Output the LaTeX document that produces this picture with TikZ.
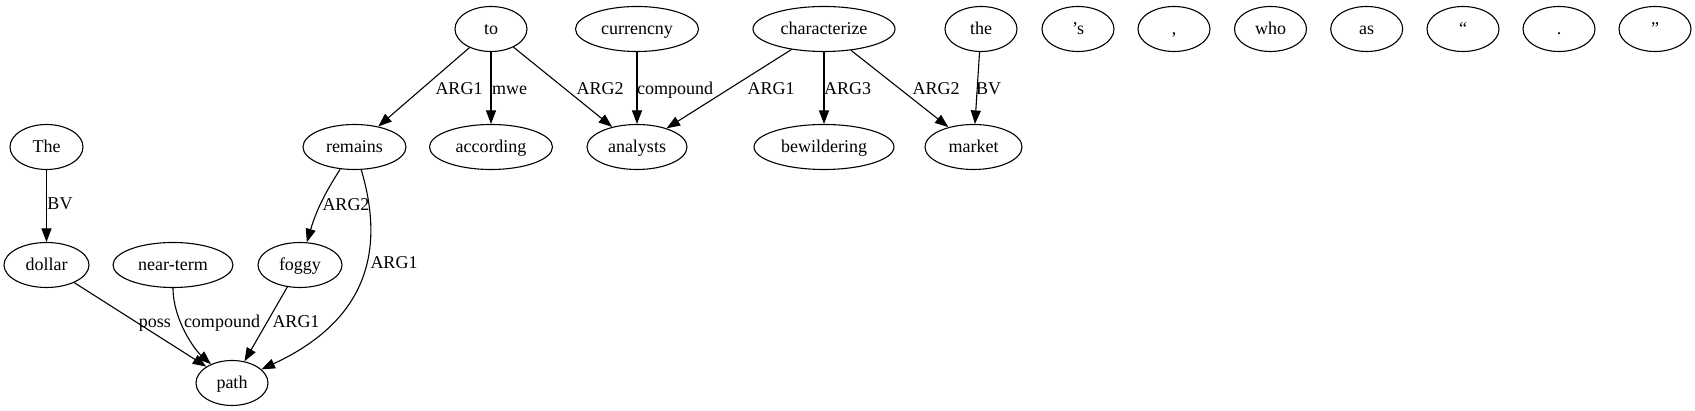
\documentclass[tikz,border=0pt]{standalone}
\usepackage{fontspec}
\setmainfont{Liberation Serif}
\usetikzlibrary{shapes.geometric,arrows.meta}
\begin{document}
\begin{tikzpicture}[x=1pt,y=1pt,
  every node/.style={font=\fontsize{18}{21}\selectfont},
  wn/.style={draw, ellipse, line width=1.1pt, inner sep=0pt, minimum height=45pt,
             minimum width=#1, text height=13pt, text depth=1pt},
  wn/.default=72pt,
  lab/.style={anchor=base, inner sep=0pt},
  conn/.style={line width=1.1pt, -{Triangle[length=13.5pt,width=10pt]}}
]
\fill[white] (0,0) rectangle (1695,411);
\useasboundingbox (0,0) rectangle (1695,411);

% row 1
\node[wn] (to) at (491,382) {to};
\node[wn=123pt] (currencny) at (637,382) {currencny};
\node[wn=142pt] (characterize) at (824,382) {characterize};
\node[wn] (the) at (981,382) {the};
\node[wn] (aps) at (1078,382) {’s};
\node[wn] (comma) at (1174,382) {,};
\node[wn] (who) at (1270.5,382) {who};
\node[wn] (as) at (1366.7,382) {as};
\node[wn] (lq) at (1463,382) {“};
\node[wn] (dot) at (1559,382) {.};
\node[wn] (rq) at (1655,382) {”};

% row 2
\node[wn=73pt] (The) at (46.5,264) {The};
\node[wn=103pt] (remains) at (354.5,264) {remains};
\node[wn=123pt] (according) at (491,264) {according};
\node[wn=100pt] (analysts) at (637,264) {analysts};
\node[wn=140pt] (bewildering) at (824,264) {bewildering};
\node[wn=97pt] (market) at (973.5,264) {market};

% row 3
\node[wn=85pt] (dollar) at (46.5,146) {dollar};
\node[wn=120pt] (nearterm) at (173,146) {near-term};
\node[wn=84pt] (foggy) at (300,146) {foggy};

% row 4
\node[wn] (path) at (232,28) {path};

% edges
\draw[conn] (to) -- (remains);
\draw[conn] (to) -- (according);
\draw[conn] (to) -- (analysts);
\draw[conn] (currencny) -- (analysts);
\draw[conn] (characterize) -- (analysts);
\draw[conn] (characterize) -- (bewildering);
\draw[conn] (characterize) -- (market);
\draw[conn] (the) -- (market);
\draw[conn] (The) -- (dollar);
\draw[conn] (remains) to[bend right=8] (foggy);
\draw[conn] (remains) .. controls (385,161) and (368,91) .. (path);
\draw[conn] (dollar) -- (path);
\draw[conn] (nearterm) .. controls (173,91) and (195,61) .. (path);
\draw[conn] (foggy) -- (path);

% labels
\node[lab] (l1) at (459,316) {ARG1};
\node[lab] (l2) at (509.5,316) {mwe};
\node[lab] (l3) at (600,316) {ARG2};
\node[lab] (l4) at (675,316) {compound};
\node[lab] (l5) at (771,316) {ARG1};
\node[lab] (l6) at (847.5,316) {ARG3};
\node[lab] (l7) at (936,316) {ARG2};
\node[lab] (l8) at (988.5,316) {BV};
\node[lab] (l9) at (60,201) {BV};
\node[lab] (l10) at (346,200) {ARG2};
\node[lab] (l11) at (394,142) {ARG1};
\node[lab] (l12) at (155,83) {poss};
\node[lab] (l13) at (222,83) {compound};
\node[lab] (l14) at (296,83) {ARG1};
\end{tikzpicture}
\end{document}
